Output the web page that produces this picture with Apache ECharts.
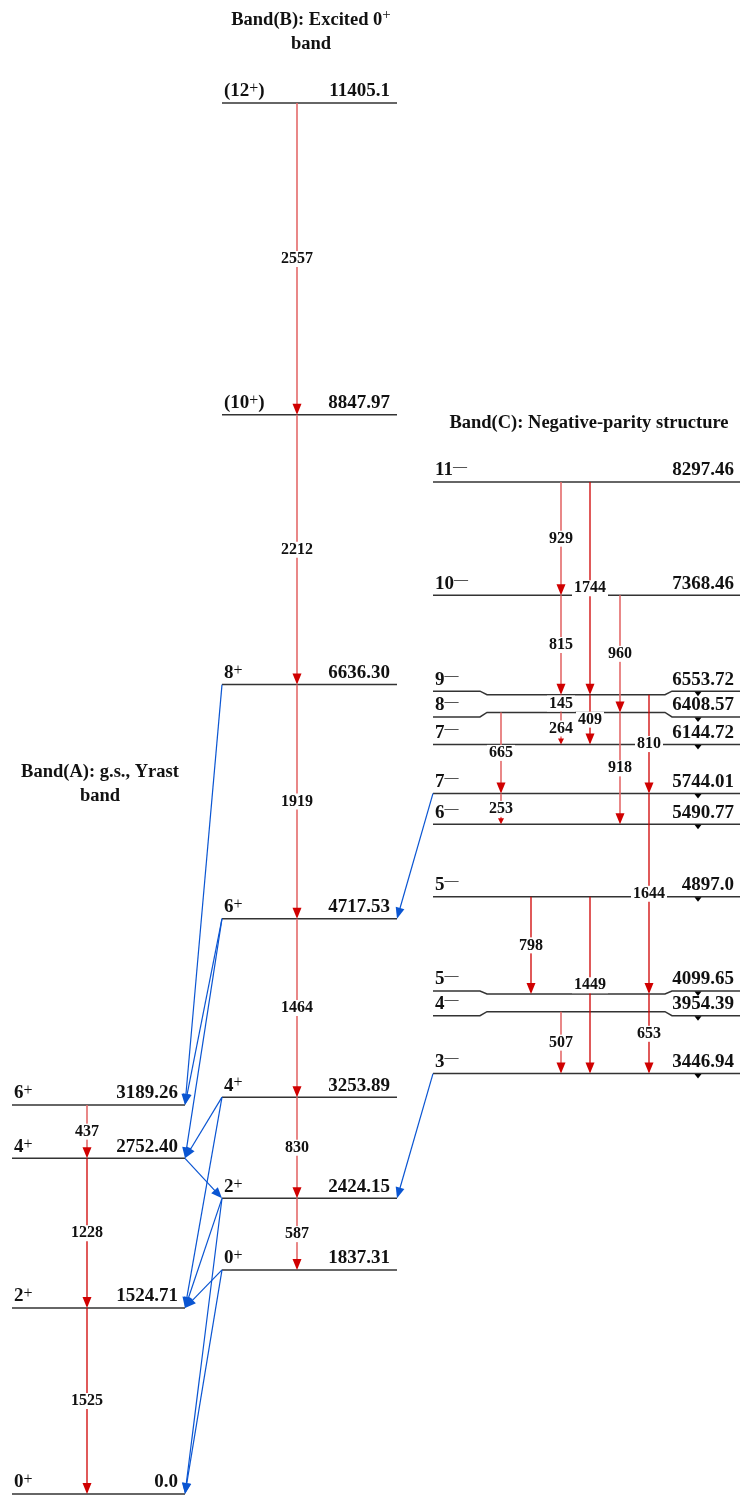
<!DOCTYPE html>
<html><head><meta charset="utf-8">
<script src="https://cdn.jsdelivr.net/npm/echarts@6/dist/echarts.min.js"></script>
<style>html,body{margin:0;padding:0;background:#fff}#c{width:740px;height:1495px}</style>
</head><body><div id="c"></div>
<script>
// ================= DATA =================
const bandA_spin = ['0+', '2+', '4+', '6+'];
const bandA_energy = ['0.0', '1524.71', '2752.40', '3189.26'];

const bandB_spin = ['0+', '2+', '4+', '6+', '8+', '(10+)', '(12+)'];
const bandB_energy = ['1837.31', '2424.15', '3253.89', '4717.53', '6636.30', '8847.97', '11405.1'];

const bandC_spin = ['3-', '4-', '5-', '5-', '6-', '7-', '7-', '8-', '9-', '10-', '11-'];
const bandC_energy = ['3446.94', '3954.39', '4099.65', '4897.0', '5490.77', '5744.01', '6144.72', '6408.57', '6553.72', '7368.46', '8297.46'];
const bandC_marked = [true, true, true, true, true, true, true, true, true, false, false];

// in-band gamma rays: [from level, to level, E-gamma label]
const gammaA = [['3189.26', '2752.40', '437'], ['2752.40', '1524.71', '1228'], ['1524.71', '0.0', '1525']];
const gammaB = [['11405.1', '8847.97', '2557'], ['8847.97', '6636.30', '2212'], ['6636.30', '4717.53', '1919'],
                ['4717.53', '3253.89', '1464'], ['3253.89', '2424.15', '830'], ['2424.15', '1837.31', '587']];
const gammaC = [['8297.46', '7368.46', '929'], ['8297.46', '6553.72', '1744'], ['7368.46', '6553.72', '815'],
                ['7368.46', '6408.57', '960'], ['6553.72', '6408.57', '145'], ['6408.57', '6144.72', '264'],
                ['6553.72', '6144.72', '409'], ['6553.72', '5744.01', '810'], ['6408.57', '5744.01', '665'],
                ['6408.57', '5490.77', '918'], ['5744.01', '5490.77', '253'], ['5744.01', '4099.65', '1644'],
                ['4897.0', '4099.65', '798'], ['4897.0', '3446.94', '1449'], ['4099.65', '3446.94', '653'],
                ['3954.39', '3446.94', '507']];
// inter-band transitions: [from band, from level, to band, to level]
const links = [['B', '6636.30', 'A', '3189.26'], ['B', '4717.53', 'A', '3189.26'], ['B', '4717.53', 'A', '2752.40'],
               ['B', '3253.89', 'A', '2752.40'], ['B', '3253.89', 'A', '1524.71'], ['A', '2752.40', 'B', '2424.15'],
               ['B', '2424.15', 'A', '1524.71'], ['B', '2424.15', 'A', '0.0'], ['B', '1837.31', 'A', '1524.71'],
               ['B', '1837.31', 'A', '0.0'], ['C', '5744.01', 'B', '4717.53'], ['C', '3446.94', 'B', '2424.15']];

// ================= LAYOUT / STYLE =================
const BAND_X = { A: [12, 185], B: [222, 397], C: [433, 740] };
const BAND_ORDER = { A: 0, B: 1, C: 2 };
const RIGHT_PAD = { A: 7, B: 7, C: 6 };
const LANE = { A: { _: 87 }, B: { _: 297 },
  C: { 929: 561, 815: 561, 145: 561, 264: 561, 507: 561, 1744: 590, 409: 590, 1449: 590,
       960: 620, 918: 620, 810: 649, 1644: 649, 653: 649, 665: 501, 253: 501, 798: 531 } };
const STRONG = ['1744', '409', '810', '1644', '798', '1449', '653', '1228', '1525'];
const KINK = { '6553.72': -3.5, '6408.57': 4.5, '4099.65': -3, '3954.39': 4 };
const KINK_X = [480, 487, 665, 672];
const MARK_X = 698;
const FONT = '"Liberation Serif", "Times New Roman", serif';
const RED_DARK = '#d00000', RED_LIGHT = '#e46a6a', BLUE = '#0a55d2', LEVEL = '#333333';

const RICH = {
  n: { fontFamily: FONT, fontWeight: 'bold', fontSize: 19, lineHeight: 21, fill: '#111', color: '#111' },
  s: { fontFamily: FONT, fontWeight: 'normal', fontSize: 16, lineHeight: 13, verticalAlign: 'top', fill: '#111', color: '#111' },
  m: { fontFamily: FONT, fontWeight: 'normal', fontSize: 14, lineHeight: 11, verticalAlign: 'top', fill: '#111', color: '#111' }
};
function spinText(s) {
  const m = s.match(/^(\(?)(\d+)([+-])(\)?)$/);
  const sup = m[3] === '+' ? '{s|+}' : '{m|\u2014}';
  return '{n|' + m[1] + m[2] + '}' + sup + (m[4] ? '{n|' + m[4] + '}' : '');
}

// ================= BUILD ROWS =================
const levels = [];
bandA_energy.forEach((e, i) => levels.push({ band: 'A', e: e, spin: bandA_spin[i], mark: false }));
bandB_energy.forEach((e, i) => levels.push({ band: 'B', e: e, spin: bandB_spin[i], mark: false }));
bandC_energy.forEach((e, i) => levels.push({ band: 'C', e: e, spin: bandC_spin[i], mark: bandC_marked[i] }));

const gammas = [];
[['A', gammaA], ['B', gammaB], ['C', gammaC]].forEach(([b, list]) => list.forEach(g =>
  gammas.push({ band: b, from: g[0], to: g[1], label: g[2], lane: LANE[b][g[2]] !== undefined ? LANE[b][g[2]] : LANE[b]._ })));

function linkX(fb, tb) {
  if (BAND_ORDER[fb] > BAND_ORDER[tb]) return [BAND_X[fb][0], BAND_X[tb][1]];
  return [BAND_X[fb][1], BAND_X[tb][0]];
}
const linkData = links.map(l => { const xs = linkX(l[0], l[2]); return [xs[0], +l[1], xs[1], +l[3]]; });

// ================= RENDERERS =================
function txt(x, y, text, align, vAlign) {
  return { type: 'text', x: x, y: y, z2: 5,
    style: { text: text, rich: RICH, align: align, textAlign: align, verticalAlign: vAlign, textVerticalAlign: vAlign,
      fontFamily: FONT, fontWeight: 'bold', fontSize: 19, fill: '#111' } };
}

function renderLevel(params, api) {
  const L = levels[params.dataIndex];
  const E = api.value(1);
  const bx = BAND_X[L.band];
  const x0 = api.coord([bx[0], E])[0], x1 = api.coord([bx[1], E])[0];
  const y = api.coord([bx[0], E])[1];
  const d = KINK[L.e] || 0;
  let pts;
  if (d) {
    const kx = KINK_X.map(v => api.coord([v, E])[0]);
    pts = [[x0, y + d], [kx[0], y + d], [kx[1], y], [kx[2], y], [kx[3], y + d], [x1, y + d]];
  } else pts = [[x0, y], [x1, y]];
  const ch = [{ type: 'polyline', shape: { points: pts }, style: { stroke: LEVEL, lineWidth: 1.5, fill: null } }];
  ch.push(txt(x0 + 2, y + d - 1, spinText(L.spin), 'left', 'bottom'));
  ch.push(txt(x1 - RIGHT_PAD[L.band], y + d - 1, '{n|' + L.e + '}', 'right', 'bottom'));
  if (L.mark) {
    const mx = api.coord([MARK_X, E])[0];
    ch.push({ type: 'polygon', shape: { points: [[mx - 3.5, y + d + 0.5], [mx + 3.5, y + d + 0.5], [mx, y + d + 5]] }, style: { fill: '#000' } });
  }
  return { type: 'group', children: ch };
}

function renderGamma(params, api) {
  const G = gammas[params.dataIndex];
  const p0 = api.coord([api.value(0), api.value(1)]);
  const p1 = api.coord([api.value(0), api.value(2)]);
  const len = p1[1] - p0[1];
  const small = len < 40;
  const hl = small ? 6 : 11, hw = small ? 3 : 4.5;
  const strong = STRONG.indexOf(G.label) >= 0;
  return { type: 'group', children: [
    { type: 'line', shape: { x1: p0[0], y1: p0[1], x2: p1[0], y2: p1[1] - 2 },
      style: { stroke: strong ? RED_DARK : RED_LIGHT, lineWidth: strong ? 1.3 : 1.6 } },
    { type: 'polygon', shape: { points: [[p1[0], p1[1]], [p1[0] - hw, p1[1] - hl], [p1[0] + hw, p1[1] - hl]] },
      style: { fill: RED_DARK } }
  ] };
}

function renderGammaLabel(params, api) {
  const G = gammas[params.dataIndex];
  const p0 = api.coord([api.value(0), api.value(1)]);
  const p1 = api.coord([api.value(0), api.value(2)]);
  return { type: 'text', x: p0[0], y: (p0[1] + p1[1]) / 2, z2: 10,
    style: { text: G.label, align: 'center', textAlign: 'center', verticalAlign: 'middle', textVerticalAlign: 'middle',
      fontFamily: FONT, fontWeight: 'bold', fontSize: 16, lineHeight: 16, fill: '#111',
      backgroundColor: '#fff', padding: [0, 2] } };
}

function renderLink(params, api) {
  const a = api.coord([api.value(0), api.value(1)]);
  const b = api.coord([api.value(2), api.value(3)]);
  const dx = b[0] - a[0], dy = b[1] - a[1];
  const L = Math.sqrt(dx * dx + dy * dy);
  const ux = dx / L, uy = dy / L, px = -uy, py = ux;
  const hl = 11, hw = 4.5;
  const bx = b[0] - ux * hl, by = b[1] - uy * hl;
  return { type: 'group', children: [
    { type: 'line', shape: { x1: a[0], y1: a[1], x2: b[0] - ux * 3, y2: b[1] - uy * 3 }, style: { stroke: BLUE, lineWidth: 1.2 } },
    { type: 'polygon', shape: { points: [[b[0], b[1]], [bx + px * hw, by + py * hw], [bx - px * hw, by - py * hw]] }, style: { fill: BLUE } }
  ] };
}

const TITLE_RICH = {
  t: { fontFamily: FONT, fontWeight: 'bold', fontSize: 18.5, lineHeight: 24, fill: '#111', color: '#111' },
  s: { fontFamily: FONT, fontWeight: 'normal', fontSize: 15, lineHeight: 12, verticalAlign: 'top', fill: '#111', color: '#111' }
};
function title(x, y, text) {
  return { type: 'text', x: x, y: y,
    style: { text: text, rich: TITLE_RICH, align: 'center', textAlign: 'center', verticalAlign: 'middle', textVerticalAlign: 'middle',
      fontFamily: FONT, fontWeight: 'bold', fontSize: 18.5, fill: '#111' } };
}

const chart = echarts.init(document.getElementById('c'), null, { renderer: 'canvas' });
chart.setOption({
  backgroundColor: '#fff',
  animation: false,
  grid: { left: 0, right: 0, top: 30.44, bottom: 1 },
  xAxis: { type: 'value', min: 0, max: 740, show: false },
  yAxis: { type: 'value', min: 0, max: 12000, show: false },
  graphic: [
    title(311, 32, '{t|Band(B): Excited 0}{s|+}\n{t|band}'),
    title(100, 784, '{t|Band(A): g.s., Yrast}\n{t|band}'),
    title(589, 423, '{t|Band(C): Negative-parity structure}')
  ],
  series: [
    { type: 'custom', name: 'levels', z: 2, renderItem: renderLevel,
      data: levels.map(l => [BAND_X[l.band][0], +l.e]) },
    { type: 'custom', name: 'links', z: 3, renderItem: renderLink,
      encode: { x: [0, 2], y: [1, 3] }, data: linkData },
    { type: 'custom', name: 'gammas', z: 4, renderItem: renderGamma,
      data: gammas.map(g => [g.lane, +g.from, +g.to]) },
    { type: 'custom', name: 'gammaLabels', z: 6, renderItem: renderGammaLabel,
      data: gammas.map(g => [g.lane, +g.from, +g.to]) }
  ]
});
</script>
</body></html>
